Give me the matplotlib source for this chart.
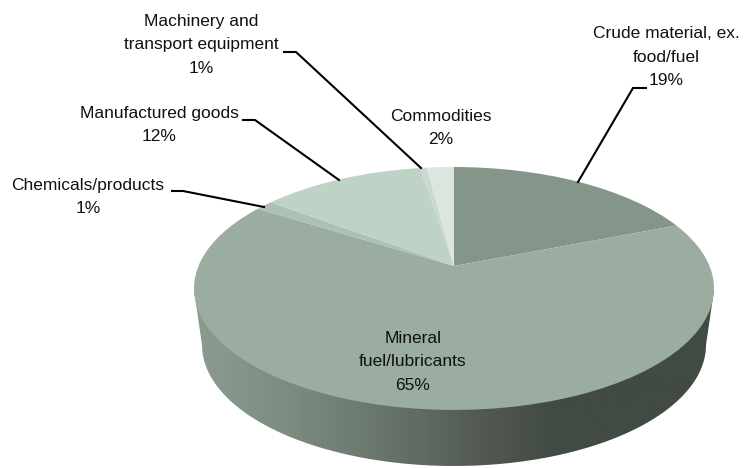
import matplotlib
matplotlib.use('Agg')
import matplotlib.pyplot as plt
import numpy as np
from matplotlib.colors import LinearSegmentedColormap
from matplotlib.path import Path
from matplotlib.patches import PathPatch
from matplotlib.transforms import Transform

categories = ['Crude material, ex.\nfood/fuel', 'Mineral\nfuel/lubricants', 'Chemicals/products',
              'Manufactured goods', 'Machinery and\ntransport equipment', 'Commodities']
shares = [19.0, 65.0, 1.3, 12.2, 0.5, 2.0]
share_labels = ['19%', '65%', '1%', '12%', '1%', '2%']
slice_colors = ['#84958a', '#9bada1', '#abc1b4', '#bfd2c6', '#c9d9cf', '#dce6df']

plt.rcParams['font.family'] = ['Liberation Sans', 'DejaVu Sans']

# apex of the pie and perspective of the disc, in pixels
APEX_X, APEX_Y = 454, 266
SCALE_X, SCALE_Y, PERSP = 255.5, 117.3, 0.185


class TiltTransform(Transform):
    input_dims = 2
    output_dims = 2

    def transform_non_affine(self, values):
        values = np.asarray(values)
        w = 1 + PERSP * values[:, 1]
        return np.column_stack([APEX_X + SCALE_X * values[:, 0] / w,
                                APEX_Y - SCALE_Y * values[:, 1] / w])


fig = plt.figure(figsize=(7.44, 4.68), dpi=100)
ax = fig.add_axes([0, 0, 1, 1])

# top of the pie
wedges, _ = ax.pie(shares, colors=slice_colors, startangle=90, counterclock=False,
                   wedgeprops={'linewidth': 0})
for w in wedges:
    w.set_transform(TiltTransform() + ax.transData)
    w.set_zorder(3)

# side wall
t = np.linspace(np.pi, 2 * np.pi, 200)
low_x = 454 + 252 * np.cos(t)
low_y = 345 - 121 * np.sin(t)
wall_x = np.concatenate([[194], low_x, [714]])
wall_y = np.concatenate([[290], low_y, [290]])
wall_path = Path(np.column_stack([wall_x, wall_y]))

wall_cmap = LinearSegmentedColormap.from_list('wall', [
    (0.0, '#8c9c90'), (0.2, '#7a8a7e'), (0.4, '#647066'),
    (0.55, '#525a52'), (0.7, '#414a43'), (1.0, '#414a43')])
grad = np.linspace(0, 1, 256).reshape(1, -1)
img = ax.imshow(grad, cmap=wall_cmap, extent=[194, 714, 470, 280], aspect='auto', zorder=2)
clip = PathPatch(wall_path, transform=ax.transData, facecolor='none', edgecolor='none')
ax.add_patch(clip)
img.set_clip_path(clip)

ax.set_xlim(0, 744)
ax.set_ylim(468, 0)
ax.set_aspect('auto')
ax.axis('off')

# labels
label_pos = [(666, 57), (413, 362), (88, 197), (159, 125), (201, 45), (441, 128)]
for name, pct, (x, y) in zip(categories, share_labels, label_pos):
    ax.text(x, y, name + '\n' + pct, ha='center', va='center', fontsize=12.5,
            linespacing=1.74, color='#111111', zorder=5)

# leader lines
leaders = [
    ([646, 633, 578], [88, 88, 182]),
    ([284, 296, 421], [52, 52, 168]),
    ([243, 255, 339], [120, 120, 180]),
    ([172, 183, 264], [191, 191, 207]),
]
for lx, ly in leaders:
    ax.plot(lx, ly, color='black', lw=1.5, solid_joinstyle='miter', zorder=4)

fig.savefig('out.png', dpi=100)
